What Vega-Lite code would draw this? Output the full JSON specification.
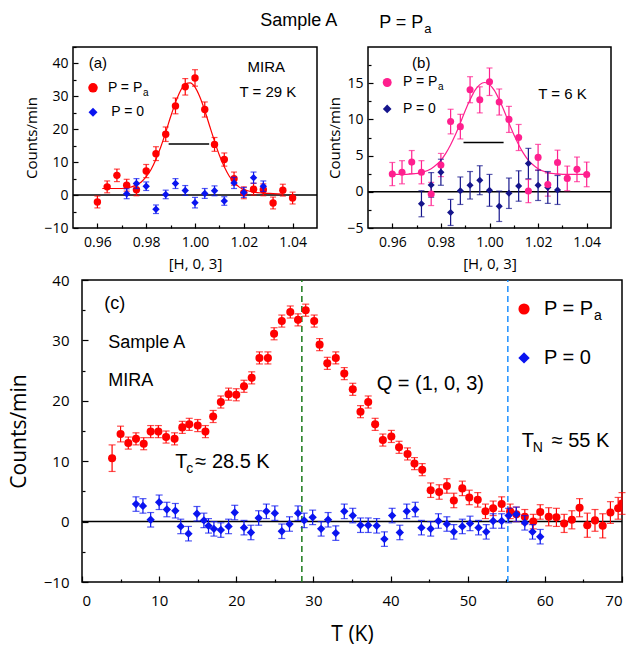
{
  "$schema": "https://vega.github.io/schema/vega-lite/v6.json",
  "padding": {"left": 7, "top": 11, "right": 5, "bottom": 5},
  "background": "white",
  "spacing": 0,
  "config": {
    "view": {"stroke": "black", "strokeWidth": 1.5},
    "axis": {"grid": false, "domain": false, "tickColor": "black", "tickWidth": 1.2, "labelColor": "black", "titleColor": "black", "labelFont": "Open Sans", "titleFont": "Open Sans", "titleFontWeight": "normal"}
  },
  "datasets": {
    "a_red": [
      {"x": 0.960, "y": -2.1, "e": 1.8}, {"x": 0.964, "y": 2.5, "e": 1.8}, {"x": 0.968, "y": 6.0, "e": 1.9},
      {"x": 0.972, "y": 3.0, "e": 1.8}, {"x": 0.976, "y": 1.6, "e": 1.8}, {"x": 0.980, "y": 7.3, "e": 2.0},
      {"x": 0.984, "y": 12.6, "e": 2.1}, {"x": 0.988, "y": 18.5, "e": 2.2}, {"x": 0.992, "y": 27.1, "e": 2.4},
      {"x": 0.996, "y": 32.9, "e": 2.5}, {"x": 1.000, "y": 35.6, "e": 2.5}, {"x": 1.004, "y": 26.0, "e": 2.3},
      {"x": 1.008, "y": 15.4, "e": 2.1}, {"x": 1.012, "y": 10.8, "e": 2.0}, {"x": 1.016, "y": 5.0, "e": 2.0},
      {"x": 1.020, "y": 0.7, "e": 1.8}, {"x": 1.024, "y": 1.8, "e": 1.8}, {"x": 1.028, "y": 1.6, "e": 1.8},
      {"x": 1.032, "y": -2.4, "e": 1.8}, {"x": 1.036, "y": 1.5, "e": 1.8}, {"x": 1.040, "y": -0.9, "e": 1.8}
    ],
    "a_blue": [
      {"x": 0.972, "y": 0.4, "e": 1.5}, {"x": 0.976, "y": 3.5, "e": 1.5}, {"x": 0.980, "y": 2.7, "e": 1.3},
      {"x": 0.984, "y": -4.3, "e": 1.3}, {"x": 0.988, "y": 0.2, "e": 1.3}, {"x": 0.992, "y": 3.5, "e": 1.5},
      {"x": 0.996, "y": 1.4, "e": 1.5}, {"x": 1.000, "y": -2.3, "e": 1.6}, {"x": 1.004, "y": 0.5, "e": 1.5},
      {"x": 1.008, "y": 1.3, "e": 1.5}, {"x": 1.012, "y": -1.8, "e": 1.3}, {"x": 1.016, "y": 3.7, "e": 1.7},
      {"x": 1.020, "y": 0.8, "e": 1.5}, {"x": 1.024, "y": 5.3, "e": 1.7}, {"x": 1.028, "y": 2.7, "e": 1.6}
    ],
    "a_fit": [
      {"x": 0.962, "y": 2.0}, {"x": 0.966, "y": 2.0}, {"x": 0.970, "y": 2.0}, {"x": 0.974, "y": 2.5},
      {"x": 0.978, "y": 4.0}, {"x": 0.980, "y": 5.6}, {"x": 0.982, "y": 7.8}, {"x": 0.984, "y": 10.9},
      {"x": 0.986, "y": 14.7}, {"x": 0.988, "y": 19.1}, {"x": 0.990, "y": 23.8}, {"x": 0.992, "y": 28.1},
      {"x": 0.994, "y": 31.6}, {"x": 0.996, "y": 33.8}, {"x": 0.998, "y": 34.1}, {"x": 1.000, "y": 32.8},
      {"x": 1.002, "y": 29.8}, {"x": 1.004, "y": 25.7}, {"x": 1.006, "y": 21.0}, {"x": 1.008, "y": 16.4},
      {"x": 1.010, "y": 12.1}, {"x": 1.012, "y": 8.6}, {"x": 1.014, "y": 5.8}, {"x": 1.016, "y": 3.9},
      {"x": 1.018, "y": 2.5}, {"x": 1.020, "y": 1.7}, {"x": 1.024, "y": 0.9}, {"x": 1.028, "y": 0.6},
      {"x": 1.032, "y": 0.45}, {"x": 1.036, "y": 0.3}
    ],
    "a_lines": [{"x": 0.95, "x2": 1.05, "y": 0}, {"x": 0.9892, "x2": 1.0058, "y": 15.5}],
    "a_sym_red": [{"x": 0.9582, "y": 32.6}],
    "a_sym_blue": [{"x": 0.9582, "y": 25.2}],
    "a_txt_left": [{"x": 0.9643, "y": 32.6, "t": "P = P"}, {"x": 0.9657, "y": 25.2, "t": "P = 0"}],
    "a_sub": [{"x": 0.9643, "y": 32.6, "t": "a"}],
    "a_txt_center": [{"x": 0.9602, "y": 40.1, "t": "(a)"}, {"x": 1.0292, "y": 38.9, "t": "MIRA"}, {"x": 1.0299, "y": 31.3, "t": "T = 29 K"}],
    "a_title": [{"x": 1.0425, "y": 52.75, "t": "Sample A"}],
    "b_pink": [
      {"x": 0.960, "y": 2.45, "e": 1.6}, {"x": 0.964, "y": 2.7, "e": 1.6}, {"x": 0.968, "y": 4.1, "e": 1.6},
      {"x": 0.972, "y": 2.7, "e": 1.6}, {"x": 0.976, "y": -0.3, "e": 1.6}, {"x": 0.980, "y": 3.7, "e": 1.6},
      {"x": 0.984, "y": 9.7, "e": 1.7}, {"x": 0.988, "y": 9.0, "e": 1.7}, {"x": 0.992, "y": 14.1, "e": 1.8},
      {"x": 0.996, "y": 12.7, "e": 1.8}, {"x": 1.000, "y": 15.2, "e": 1.9}, {"x": 1.004, "y": 12.4, "e": 1.8},
      {"x": 1.008, "y": 10.0, "e": 1.8}, {"x": 1.012, "y": 7.5, "e": 1.8}, {"x": 1.016, "y": 0.1, "e": 1.6},
      {"x": 1.020, "y": 4.75, "e": 1.8}, {"x": 1.024, "y": 1.0, "e": 1.6}, {"x": 1.028, "y": 4.05, "e": 1.7},
      {"x": 1.032, "y": 1.85, "e": 1.7}, {"x": 1.036, "y": 3.1, "e": 1.7}, {"x": 1.040, "y": 2.4, "e": 1.7}
    ],
    "b_navy": [
      {"x": 0.972, "y": -1.65, "e": 1.8}, {"x": 0.976, "y": 0.95, "e": 1.7}, {"x": 0.980, "y": 2.7, "e": 1.8},
      {"x": 0.984, "y": -2.85, "e": 1.8}, {"x": 0.988, "y": 0.15, "e": 1.9}, {"x": 0.992, "y": 0.9, "e": 1.9},
      {"x": 0.996, "y": 1.6, "e": 2.0}, {"x": 1.000, "y": 0.2, "e": 2.2}, {"x": 1.004, "y": -2.0, "e": 2.1},
      {"x": 1.008, "y": -0.2, "e": 2.1}, {"x": 1.012, "y": 0.8, "e": 2.1}, {"x": 1.016, "y": 3.9, "e": 2.1},
      {"x": 1.020, "y": 0.9, "e": 2.1}, {"x": 1.024, "y": 0.6, "e": 2.2}, {"x": 1.028, "y": 0.25, "e": 2.0}
    ],
    "b_fit": [
      {"x": 0.960, "y": 2.4}, {"x": 0.964, "y": 2.4}, {"x": 0.968, "y": 2.47}, {"x": 0.972, "y": 2.65},
      {"x": 0.976, "y": 3.2}, {"x": 0.978, "y": 3.7}, {"x": 0.980, "y": 4.35}, {"x": 0.982, "y": 5.3},
      {"x": 0.984, "y": 6.5}, {"x": 0.986, "y": 7.9}, {"x": 0.988, "y": 9.5}, {"x": 0.990, "y": 11.2},
      {"x": 0.992, "y": 12.7}, {"x": 0.994, "y": 14.0}, {"x": 0.996, "y": 14.8}, {"x": 0.998, "y": 15.1},
      {"x": 1.000, "y": 14.8}, {"x": 1.002, "y": 14.0}, {"x": 1.004, "y": 12.7}, {"x": 1.006, "y": 11.2},
      {"x": 1.008, "y": 9.5}, {"x": 1.010, "y": 7.9}, {"x": 1.012, "y": 6.5}, {"x": 1.014, "y": 5.3},
      {"x": 1.016, "y": 4.35}, {"x": 1.018, "y": 3.7}, {"x": 1.020, "y": 3.2}, {"x": 1.024, "y": 2.65},
      {"x": 1.028, "y": 2.47}, {"x": 1.032, "y": 2.4}, {"x": 1.036, "y": 2.4}, {"x": 1.040, "y": 2.4}
    ],
    "b_lines": [{"x": 0.95, "x2": 1.05, "y": 0}, {"x": 0.9893, "x2": 1.0058, "y": 6.8}],
    "b_sym_pink": [{"x": 0.9579, "y": 15.1}],
    "b_sym_navy": [{"x": 0.9579, "y": 11.45}],
    "b_txt_left": [{"x": 0.9644, "y": 15.1, "t": "P = P"}, {"x": 0.9644, "y": 11.45, "t": "P = 0"}],
    "b_sub": [{"x": 0.9644, "y": 15.1, "t": "a"}],
    "b_txt_center": [{"x": 0.9719, "y": 17.8, "t": "(b)"}, {"x": 1.030, "y": 13.5, "t": "T = 6 K"}],
    "b_title": [{"x": 0.9546, "y": 23.3, "t": "P = P"}],
    "b_title_sub": [{"x": 0.9546, "y": 23.3, "t": "a"}],
    "c_red": [
      {"x": 3.9, "y": 10.5, "e": 2.2}, {"x": 5.0, "y": 14.5, "e": 1.3}, {"x": 6.0, "y": 13.0, "e": 1.0},
      {"x": 7.0, "y": 13.7, "e": 1.0}, {"x": 8.0, "y": 12.9, "e": 1.0}, {"x": 8.9, "y": 14.9, "e": 1.0},
      {"x": 9.9, "y": 14.9, "e": 1.0}, {"x": 10.9, "y": 14.0, "e": 1.0}, {"x": 12.0, "y": 13.7, "e": 1.0},
      {"x": 13.0, "y": 15.6, "e": 1.0}, {"x": 13.9, "y": 16.1, "e": 1.0}, {"x": 15.0, "y": 15.9, "e": 1.0},
      {"x": 16.0, "y": 14.9, "e": 1.0}, {"x": 17.0, "y": 17.4, "e": 1.0}, {"x": 18.0, "y": 19.8, "e": 1.0},
      {"x": 19.0, "y": 21.1, "e": 1.0}, {"x": 20.0, "y": 21.0, "e": 1.0}, {"x": 21.0, "y": 22.4, "e": 1.0},
      {"x": 22.0, "y": 23.8, "e": 1.0}, {"x": 23.0, "y": 27.1, "e": 1.0}, {"x": 24.1, "y": 27.1, "e": 1.0},
      {"x": 24.9, "y": 31.1, "e": 1.0}, {"x": 25.9, "y": 33.2, "e": 1.0}, {"x": 27.0, "y": 34.7, "e": 1.0},
      {"x": 28.0, "y": 33.4, "e": 1.0}, {"x": 29.0, "y": 35.0, "e": 1.0}, {"x": 30.1, "y": 33.2, "e": 1.0},
      {"x": 30.8, "y": 29.3, "e": 1.0}, {"x": 31.8, "y": 26.2, "e": 1.0}, {"x": 32.9, "y": 27.1, "e": 1.0},
      {"x": 34.0, "y": 24.5, "e": 1.0}, {"x": 35.1, "y": 21.9, "e": 1.0}, {"x": 36.1, "y": 18.2, "e": 1.0},
      {"x": 37.1, "y": 19.8, "e": 1.0}, {"x": 38.0, "y": 16.1, "e": 1.0}, {"x": 39.0, "y": 13.5, "e": 1.0},
      {"x": 40.1, "y": 14.1, "e": 1.0}, {"x": 41.1, "y": 12.3, "e": 1.0}, {"x": 42.2, "y": 11.2, "e": 1.0},
      {"x": 43.1, "y": 9.6, "e": 1.0}, {"x": 44.1, "y": 8.6, "e": 1.0}, {"x": 45.2, "y": 5.2, "e": 1.2},
      {"x": 46.3, "y": 4.9, "e": 1.2}, {"x": 47.3, "y": 5.9, "e": 1.2}, {"x": 48.2, "y": 3.5, "e": 1.2},
      {"x": 49.3, "y": 5.5, "e": 1.2}, {"x": 50.2, "y": 4.0, "e": 1.2}, {"x": 51.3, "y": 3.6, "e": 1.2},
      {"x": 52.3, "y": 1.7, "e": 1.2}, {"x": 53.3, "y": 2.2, "e": 1.2}, {"x": 54.4, "y": 2.9, "e": 1.2},
      {"x": 55.5, "y": 1.7, "e": 1.2}, {"x": 56.3, "y": 1.2, "e": 1.2}, {"x": 57.4, "y": 0.8, "e": 1.2},
      {"x": 58.5, "y": 0.0, "e": 1.2}, {"x": 59.4, "y": 1.6, "e": 1.2}, {"x": 60.5, "y": 0.8, "e": 1.5},
      {"x": 61.5, "y": 0.7, "e": 1.5}, {"x": 62.5, "y": -0.3, "e": 1.5}, {"x": 63.5, "y": 0.3, "e": 1.5},
      {"x": 64.5, "y": 2.3, "e": 1.5}, {"x": 65.5, "y": -0.6, "e": 2.0}, {"x": 66.5, "y": 0.2, "e": 1.8},
      {"x": 67.5, "y": -0.7, "e": 2.0}, {"x": 68.5, "y": 1.5, "e": 1.8}, {"x": 69.5, "y": 2.2, "e": 1.8},
      {"x": 70.0, "y": 3.0, "e": 1.8}
    ],
    "c_blue": [
      {"x": 7.0, "y": 2.9, "e": 1.2}, {"x": 7.9, "y": 2.6, "e": 1.2}, {"x": 8.9, "y": 0.3, "e": 1.2},
      {"x": 10.0, "y": 3.2, "e": 1.2}, {"x": 11.0, "y": 2.0, "e": 1.2}, {"x": 12.1, "y": 1.8, "e": 1.2},
      {"x": 12.8, "y": -0.8, "e": 1.2}, {"x": 13.8, "y": -2.0, "e": 1.2}, {"x": 14.9, "y": 1.3, "e": 1.2},
      {"x": 15.8, "y": 0.2, "e": 1.2}, {"x": 16.4, "y": -0.7, "e": 1.2}, {"x": 17.1, "y": -1.2, "e": 1.2},
      {"x": 18.0, "y": -1.4, "e": 1.2}, {"x": 19.0, "y": -0.8, "e": 1.2}, {"x": 19.8, "y": 1.5, "e": 1.2},
      {"x": 21.0, "y": -1.0, "e": 1.2}, {"x": 21.9, "y": -1.8, "e": 1.2}, {"x": 22.9, "y": 0.6, "e": 1.2},
      {"x": 23.9, "y": 1.7, "e": 1.2}, {"x": 25.0, "y": 1.4, "e": 1.2}, {"x": 25.9, "y": -1.6, "e": 1.2},
      {"x": 26.9, "y": -0.4, "e": 1.2}, {"x": 28.0, "y": 1.4, "e": 1.2}, {"x": 28.8, "y": 0.2, "e": 1.2},
      {"x": 29.9, "y": 0.7, "e": 1.2}, {"x": 31.0, "y": -1.2, "e": 1.2}, {"x": 31.9, "y": 0.3, "e": 1.2},
      {"x": 32.9, "y": -1.9, "e": 1.2}, {"x": 34.0, "y": 1.7, "e": 1.2}, {"x": 35.1, "y": 1.0, "e": 1.2},
      {"x": 36.1, "y": -0.6, "e": 1.2}, {"x": 37.1, "y": -0.6, "e": 1.2}, {"x": 38.2, "y": -0.7, "e": 1.2},
      {"x": 39.2, "y": -2.9, "e": 1.2}, {"x": 40.2, "y": 1.0, "e": 1.2}, {"x": 41.2, "y": -1.8, "e": 1.2},
      {"x": 42.1, "y": 1.7, "e": 1.2}, {"x": 43.2, "y": 2.0, "e": 1.2}, {"x": 44.0, "y": -1.0, "e": 1.2},
      {"x": 45.2, "y": -1.2, "e": 1.2}, {"x": 46.2, "y": 0.1, "e": 1.2}, {"x": 47.3, "y": -0.4, "e": 1.2},
      {"x": 48.2, "y": -1.7, "e": 1.2}, {"x": 49.3, "y": -0.8, "e": 1.2}, {"x": 50.3, "y": -0.3, "e": 1.2},
      {"x": 51.4, "y": -1.0, "e": 1.2}, {"x": 52.4, "y": -1.7, "e": 1.2}, {"x": 53.3, "y": 0.1, "e": 1.2},
      {"x": 54.4, "y": 0.1, "e": 1.2}, {"x": 55.3, "y": 1.0, "e": 1.2}, {"x": 56.3, "y": 1.2, "e": 1.2},
      {"x": 57.4, "y": -0.2, "e": 1.2}, {"x": 58.4, "y": -1.7, "e": 1.2}, {"x": 59.4, "y": -2.5, "e": 1.2}
    ],
    "c_zero": [{"x": 0, "x2": 70, "y": 0}],
    "c_tc": [{"x": 28.5, "y": -10, "y2": 40}],
    "c_tn": [{"x": 55.2, "y": -10, "y2": 40}],
    "c_sym_red": [{"x": 57.3, "y": 35.2}],
    "c_sym_blue": [{"x": 57.3, "y": 27.1}],
    "c_txt_left": [{"x": 2.9, "y": 36.0, "t": "(c)"}, {"x": 3.4, "y": 29.5, "t": "Sample A"}, {"x": 3.4, "y": 23.2, "t": "MIRA"}],
    "c_txt_big": [{"x": 38.2, "y": 22.8, "t": "Q = (1, 0, 3)"}, {"x": 59.9, "y": 35.2, "t": "P = P"}, {"x": 59.9, "y": 27.1, "t": "P = 0"}, {"x": 12.1, "y": 9.8, "t": "T"}, {"x": 57.0, "y": 13.4, "t": "T"}],
    "c_leg_sub": [{"x": 59.9, "y": 35.2, "t": "a"}],
    "c_sub": [{"x": 12.1, "y": 9.8, "t": "c"}, {"x": 57.0, "y": 13.4, "t": "N"}],
    "c_rest_c": [{"x": 12.1, "y": 9.8, "t": "≈ 28.5 K"}],
    "c_rest_n": [{"x": 57.0, "y": 13.4, "t": "≈ 55 K"}]
  },
  "vconcat": [
    {
      "hconcat": [
        {
          "width": 244, "height": 181,
          "resolve": {"axis": {"x": "independent", "y": "independent"}},
          "layer": [
            {"data": {"name": "a_lines"}, "mark": {"type": "rule", "color": "black", "strokeWidth": 1.5},
             "encoding": {"x": {"field": "x", "type": "quantitative", "scale": {"domain": [0.95, 1.05], "nice": false, "zero": false}, "axis": null}, "x2": {"field": "x2"},
                          "y": {"field": "y", "type": "quantitative", "scale": {"domain": [-10, 45], "nice": false, "zero": false}, "axis": null}}},
            {"data": {"name": "a_fit"}, "mark": {"type": "line", "color": "#ff0000", "strokeWidth": 1.2, "interpolate": "monotone"},
             "encoding": {"x": {"field": "x", "type": "quantitative", "scale": {"domain": [0.95, 1.05], "nice": false, "zero": false}, "axis": {"orient": "bottom", "values": [0.97, 0.99, 1.01, 1.03], "labels": false, "tickSize": -3, "title": null}},
                          "y": {"field": "y", "type": "quantitative", "scale": {"domain": [-10, 45], "nice": false, "zero": false}, "axis": {"orient": "left", "values": [-5, 5, 15, 25, 35, 45], "labels": false, "tickSize": -3, "title": null}}}},
            {"data": {"name": "a_red"}, "mark": {"type": "errorbar", "ticks": {"size": 6}, "color": "#ff0000", "thickness": 1.2},
             "encoding": {"x": {"field": "x", "type": "quantitative", "scale": {"domain": [0.95, 1.05], "nice": false, "zero": false}, "axis": null},
                          "y": {"field": "y", "type": "quantitative", "scale": {"domain": [-10, 45], "nice": false, "zero": false}, "axis": null}, "yError": {"field": "e"}}},
            {"data": {"name": "a_red"}, "mark": {"type": "point", "shape": "circle", "filled": true, "opacity": 1, "size": 55, "color": "#ff0000"},
             "encoding": {"x": {"field": "x", "type": "quantitative", "scale": {"domain": [0.95, 1.05], "nice": false, "zero": false}, "axis": {"orient": "bottom", "values": [0.96, 0.98, 1.0, 1.02, 1.04], "format": ".2f", "title": "[H, 0, 3]", "labelFontSize": 14, "titleFontSize": 15, "tickSize": -5, "labelPadding": 12, "titlePadding": 7}},
                          "y": {"field": "y", "type": "quantitative", "scale": {"domain": [-10, 45], "nice": false, "zero": false}, "axis": {"orient": "left", "values": [-10, 0, 10, 20, 30, 40], "title": "Counts/min", "labelFontSize": 14, "titleFontSize": 15, "tickSize": -5, "labelPadding": 10, "titlePadding": 4}}}},
            {"data": {"name": "a_blue"}, "mark": {"type": "errorbar", "ticks": {"size": 6}, "color": "#0a14f0", "thickness": 1.2},
             "encoding": {"x": {"field": "x", "type": "quantitative", "scale": {"domain": [0.95, 1.05], "nice": false, "zero": false}, "axis": null},
                          "y": {"field": "y", "type": "quantitative", "scale": {"domain": [-10, 45], "nice": false, "zero": false}, "axis": null}, "yError": {"field": "e"}}},
            {"data": {"name": "a_blue"}, "mark": {"type": "point", "shape": "diamond", "filled": true, "opacity": 1, "size": 55, "color": "#0a14f0"},
             "encoding": {"x": {"field": "x", "type": "quantitative", "scale": {"domain": [0.95, 1.05], "nice": false, "zero": false}, "axis": null},
                          "y": {"field": "y", "type": "quantitative", "scale": {"domain": [-10, 45], "nice": false, "zero": false}, "axis": null}}},
            {"data": {"name": "a_sym_red"}, "mark": {"type": "point", "shape": "circle", "filled": true, "opacity": 1, "size": 90, "color": "#ff0000"},
             "encoding": {"x": {"field": "x", "type": "quantitative", "scale": {"domain": [0.95, 1.05], "nice": false, "zero": false}, "axis": null},
                          "y": {"field": "y", "type": "quantitative", "scale": {"domain": [-10, 45], "nice": false, "zero": false}, "axis": null}}},
            {"data": {"name": "a_sym_blue"}, "mark": {"type": "point", "shape": "diamond", "filled": true, "opacity": 1, "size": 80, "color": "#0a14f0"},
             "encoding": {"x": {"field": "x", "type": "quantitative", "scale": {"domain": [0.95, 1.05], "nice": false, "zero": false}, "axis": null},
                          "y": {"field": "y", "type": "quantitative", "scale": {"domain": [-10, 45], "nice": false, "zero": false}, "axis": null}}},
            {"data": {"name": "a_txt_left"}, "mark": {"type": "text", "align": "left", "baseline": "middle", "fontSize": 14, "font": "Liberation Sans", "color": "black"},
             "encoding": {"x": {"field": "x", "type": "quantitative", "scale": {"domain": [0.95, 1.05], "nice": false, "zero": false}, "axis": null},
                          "y": {"field": "y", "type": "quantitative", "scale": {"domain": [-10, 45], "nice": false, "zero": false}, "axis": null}, "text": {"field": "t"}}},
            {"data": {"name": "a_sub"}, "mark": {"type": "text", "align": "left", "baseline": "middle", "fontSize": 10, "dx": 35, "dy": 5, "font": "Liberation Sans", "color": "black"},
             "encoding": {"x": {"field": "x", "type": "quantitative", "scale": {"domain": [0.95, 1.05], "nice": false, "zero": false}, "axis": null},
                          "y": {"field": "y", "type": "quantitative", "scale": {"domain": [-10, 45], "nice": false, "zero": false}, "axis": null}, "text": {"field": "t"}}},
            {"data": {"name": "a_txt_center"}, "mark": {"type": "text", "align": "center", "baseline": "middle", "fontSize": 15, "font": "Liberation Sans", "color": "black"},
             "encoding": {"x": {"field": "x", "type": "quantitative", "scale": {"domain": [0.95, 1.05], "nice": false, "zero": false}, "axis": null},
                          "y": {"field": "y", "type": "quantitative", "scale": {"domain": [-10, 45], "nice": false, "zero": false}, "axis": null}, "text": {"field": "t"}}},
            {"data": {"name": "a_title"}, "mark": {"type": "text", "align": "center", "baseline": "middle", "fontSize": 18, "font": "Liberation Sans", "color": "black"},
             "encoding": {"x": {"field": "x", "type": "quantitative", "scale": {"domain": [0.95, 1.05], "nice": false, "zero": false}, "axis": null},
                          "y": {"field": "y", "type": "quantitative", "scale": {"domain": [-10, 45], "nice": false, "zero": false}, "axis": null}, "text": {"field": "t"}}}
          ]
        },
        {
          "width": 243, "height": 181,
          "resolve": {"axis": {"x": "independent", "y": "independent"}},
          "layer": [
            {"data": {"name": "b_lines"}, "mark": {"type": "rule", "color": "black", "strokeWidth": 1.5},
             "encoding": {"x": {"field": "x", "type": "quantitative", "scale": {"domain": [0.95, 1.05], "nice": false, "zero": false}, "axis": null}, "x2": {"field": "x2"},
                          "y": {"field": "y", "type": "quantitative", "scale": {"domain": [-5, 20], "nice": false, "zero": false}, "axis": null}}},
            {"data": {"name": "b_fit"}, "mark": {"type": "line", "color": "#ff1f8e", "strokeWidth": 1.2, "interpolate": "monotone"},
             "encoding": {"x": {"field": "x", "type": "quantitative", "scale": {"domain": [0.95, 1.05], "nice": false, "zero": false}, "axis": {"orient": "bottom", "values": [0.97, 0.99, 1.01, 1.03], "labels": false, "tickSize": -3, "title": null}},
                          "y": {"field": "y", "type": "quantitative", "scale": {"domain": [-5, 20], "nice": false, "zero": false}, "axis": {"orient": "left", "values": [-2.5, 2.5, 7.5, 12.5, 17.5], "labels": false, "tickSize": -3, "title": null}}}},
            {"data": {"name": "b_pink"}, "mark": {"type": "errorbar", "ticks": {"size": 6}, "color": "#ff1f8e", "thickness": 1.2},
             "encoding": {"x": {"field": "x", "type": "quantitative", "scale": {"domain": [0.95, 1.05], "nice": false, "zero": false}, "axis": null},
                          "y": {"field": "y", "type": "quantitative", "scale": {"domain": [-5, 20], "nice": false, "zero": false}, "axis": null}, "yError": {"field": "e"}}},
            {"data": {"name": "b_navy"}, "mark": {"type": "errorbar", "ticks": {"size": 6}, "color": "#15158c", "thickness": 1.2},
             "encoding": {"x": {"field": "x", "type": "quantitative", "scale": {"domain": [0.95, 1.05], "nice": false, "zero": false}, "axis": null},
                          "y": {"field": "y", "type": "quantitative", "scale": {"domain": [-5, 20], "nice": false, "zero": false}, "axis": null}, "yError": {"field": "e"}}},
            {"data": {"name": "b_navy"}, "mark": {"type": "point", "shape": "diamond", "filled": true, "opacity": 1, "size": 50, "color": "#15158c"},
             "encoding": {"x": {"field": "x", "type": "quantitative", "scale": {"domain": [0.95, 1.05], "nice": false, "zero": false}, "axis": null},
                          "y": {"field": "y", "type": "quantitative", "scale": {"domain": [-5, 20], "nice": false, "zero": false}, "axis": null}}},
            {"data": {"name": "b_pink"}, "mark": {"type": "point", "shape": "circle", "filled": true, "opacity": 1, "size": 50, "color": "#ff1f8e"},
             "encoding": {"x": {"field": "x", "type": "quantitative", "scale": {"domain": [0.95, 1.05], "nice": false, "zero": false}, "axis": {"orient": "bottom", "values": [0.96, 0.98, 1.0, 1.02, 1.04], "format": ".2f", "title": "[H, 0, 3]", "labelFontSize": 14, "titleFontSize": 15, "tickSize": -5, "labelPadding": 12, "titlePadding": 7}},
                          "y": {"field": "y", "type": "quantitative", "scale": {"domain": [-5, 20], "nice": false, "zero": false}, "axis": {"orient": "left", "values": [-5, 0, 5, 10, 15], "title": "Counts/min", "labelFontSize": 14, "titleFontSize": 15, "tickSize": -5, "labelPadding": 10, "titlePadding": 4}}}},
            {"data": {"name": "b_sym_pink"}, "mark": {"type": "point", "shape": "circle", "filled": true, "opacity": 1, "size": 80, "color": "#ff1f8e"},
             "encoding": {"x": {"field": "x", "type": "quantitative", "scale": {"domain": [0.95, 1.05], "nice": false, "zero": false}, "axis": null},
                          "y": {"field": "y", "type": "quantitative", "scale": {"domain": [-5, 20], "nice": false, "zero": false}, "axis": null}}},
            {"data": {"name": "b_sym_navy"}, "mark": {"type": "point", "shape": "diamond", "filled": true, "opacity": 1, "size": 75, "color": "#15158c"},
             "encoding": {"x": {"field": "x", "type": "quantitative", "scale": {"domain": [0.95, 1.05], "nice": false, "zero": false}, "axis": null},
                          "y": {"field": "y", "type": "quantitative", "scale": {"domain": [-5, 20], "nice": false, "zero": false}, "axis": null}}},
            {"data": {"name": "b_txt_left"}, "mark": {"type": "text", "align": "left", "baseline": "middle", "fontSize": 14, "font": "Liberation Sans", "color": "black"},
             "encoding": {"x": {"field": "x", "type": "quantitative", "scale": {"domain": [0.95, 1.05], "nice": false, "zero": false}, "axis": null},
                          "y": {"field": "y", "type": "quantitative", "scale": {"domain": [-5, 20], "nice": false, "zero": false}, "axis": null}, "text": {"field": "t"}}},
            {"data": {"name": "b_sub"}, "mark": {"type": "text", "align": "left", "baseline": "middle", "fontSize": 10, "dx": 35, "dy": 5, "font": "Liberation Sans", "color": "black"},
             "encoding": {"x": {"field": "x", "type": "quantitative", "scale": {"domain": [0.95, 1.05], "nice": false, "zero": false}, "axis": null},
                          "y": {"field": "y", "type": "quantitative", "scale": {"domain": [-5, 20], "nice": false, "zero": false}, "axis": null}, "text": {"field": "t"}}},
            {"data": {"name": "b_txt_center"}, "mark": {"type": "text", "align": "center", "baseline": "middle", "fontSize": 15, "font": "Liberation Sans", "color": "black"},
             "encoding": {"x": {"field": "x", "type": "quantitative", "scale": {"domain": [0.95, 1.05], "nice": false, "zero": false}, "axis": null},
                          "y": {"field": "y", "type": "quantitative", "scale": {"domain": [-5, 20], "nice": false, "zero": false}, "axis": null}, "text": {"field": "t"}}},
            {"data": {"name": "b_title"}, "mark": {"type": "text", "align": "left", "baseline": "middle", "fontSize": 18, "font": "Liberation Sans", "color": "black"},
             "encoding": {"x": {"field": "x", "type": "quantitative", "scale": {"domain": [0.95, 1.05], "nice": false, "zero": false}, "axis": null},
                          "y": {"field": "y", "type": "quantitative", "scale": {"domain": [-5, 20], "nice": false, "zero": false}, "axis": null}, "text": {"field": "t"}}},
            {"data": {"name": "b_title_sub"}, "mark": {"type": "text", "align": "left", "baseline": "middle", "fontSize": 13, "dx": 45, "dy": 6, "font": "Liberation Sans", "color": "black"},
             "encoding": {"x": {"field": "x", "type": "quantitative", "scale": {"domain": [0.95, 1.05], "nice": false, "zero": false}, "axis": null},
                          "y": {"field": "y", "type": "quantitative", "scale": {"domain": [-5, 20], "nice": false, "zero": false}, "axis": null}, "text": {"field": "t"}}}
          ]
        }
      ],
      "spacing": 51,
      "bounds": "flush"
    },
    {
      "hconcat": [
        {"width": 9, "height": 2, "view": {"stroke": null}, "data": {"values": [{"k": 1}]}, "mark": {"type": "point", "opacity": 0}},
        {
          "width": 540, "height": 302,
          "resolve": {"axis": {"x": "independent", "y": "independent"}},
          "layer": [
            {"data": {"name": "c_zero"}, "mark": {"type": "rule", "color": "black", "strokeWidth": 1.5},
             "encoding": {"x": {"field": "x", "type": "quantitative", "scale": {"domain": [0, 70], "nice": false, "zero": false}, "axis": null}, "x2": {"field": "x2"},
                          "y": {"field": "y", "type": "quantitative", "scale": {"domain": [-10, 40], "nice": false, "zero": false}, "axis": null}}},
            {"data": {"name": "c_tc"}, "mark": {"type": "rule", "color": "#1a7a1a", "strokeWidth": 1.5, "strokeDash": [6, 4]},
             "encoding": {"x": {"field": "x", "type": "quantitative", "scale": {"domain": [0, 70], "nice": false, "zero": false}, "axis": null},
                          "y": {"field": "y", "type": "quantitative", "scale": {"domain": [-10, 40], "nice": false, "zero": false}, "axis": null}, "y2": {"field": "y2"}}},
            {"data": {"name": "c_tn"}, "mark": {"type": "rule", "color": "#1e90ff", "strokeWidth": 1.5, "strokeDash": [6, 4]},
             "encoding": {"x": {"field": "x", "type": "quantitative", "scale": {"domain": [0, 70], "nice": false, "zero": false}, "axis": null},
                          "y": {"field": "y", "type": "quantitative", "scale": {"domain": [-10, 40], "nice": false, "zero": false}, "axis": null}, "y2": {"field": "y2"}}},
            {"data": {"name": "c_red"}, "mark": {"type": "errorbar", "ticks": {"size": 7}, "color": "#ff0000", "thickness": 1.2},
             "encoding": {"x": {"field": "x", "type": "quantitative", "scale": {"domain": [0, 70], "nice": false, "zero": false}, "axis": null},
                          "y": {"field": "y", "type": "quantitative", "scale": {"domain": [-10, 40], "nice": false, "zero": false}, "axis": null}, "yError": {"field": "e"}}},
            {"data": {"name": "c_red"}, "mark": {"type": "point", "shape": "circle", "filled": true, "opacity": 1, "size": 65, "color": "#ff0000", "clip": true},
             "encoding": {"x": {"field": "x", "type": "quantitative", "scale": {"domain": [0, 70], "nice": false, "zero": false}, "axis": {"orient": "bottom", "values": [0, 10, 20, 30, 40, 50, 60, 70], "title": "T (K)", "labelFontSize": 15, "titleFontSize": 21, "tickSize": -6, "labelPadding": 17, "titlePadding": 15}},
                          "y": {"field": "y", "type": "quantitative", "scale": {"domain": [-10, 40], "nice": false, "zero": false}, "axis": {"orient": "left", "values": [-10, 0, 10, 20, 30, 40], "title": "Counts/min", "labelFontSize": 15, "titleFontSize": 21, "tickSize": -6, "labelPadding": 19, "titlePadding": 14}}}},
            {"data": {"name": "c_blue"}, "mark": {"type": "errorbar", "ticks": {"size": 7}, "color": "#0a14f0", "thickness": 1.2},
             "encoding": {"x": {"field": "x", "type": "quantitative", "scale": {"domain": [0, 70], "nice": false, "zero": false}, "axis": null},
                          "y": {"field": "y", "type": "quantitative", "scale": {"domain": [-10, 40], "nice": false, "zero": false}, "axis": null}, "yError": {"field": "e"}}},
            {"data": {"name": "c_blue"}, "mark": {"type": "point", "shape": "diamond", "filled": true, "opacity": 1, "size": 70, "color": "#0a14f0"},
             "encoding": {"x": {"field": "x", "type": "quantitative", "scale": {"domain": [0, 70], "nice": false, "zero": false}, "axis": {"orient": "bottom", "values": [5, 15, 25, 35, 45, 55, 65], "labels": false, "tickSize": -3, "title": null}},
                          "y": {"field": "y", "type": "quantitative", "scale": {"domain": [-10, 40], "nice": false, "zero": false}, "axis": {"orient": "left", "values": [-5, 5, 15, 25, 35], "labels": false, "tickSize": -3, "title": null}}}},
            {"data": {"name": "c_sym_red"}, "mark": {"type": "point", "shape": "circle", "filled": true, "opacity": 1, "size": 125, "color": "#ff0000"},
             "encoding": {"x": {"field": "x", "type": "quantitative", "scale": {"domain": [0, 70], "nice": false, "zero": false}, "axis": null},
                          "y": {"field": "y", "type": "quantitative", "scale": {"domain": [-10, 40], "nice": false, "zero": false}, "axis": null}}},
            {"data": {"name": "c_sym_blue"}, "mark": {"type": "point", "shape": "diamond", "filled": true, "opacity": 1, "size": 130, "color": "#0a14f0"},
             "encoding": {"x": {"field": "x", "type": "quantitative", "scale": {"domain": [0, 70], "nice": false, "zero": false}, "axis": null},
                          "y": {"field": "y", "type": "quantitative", "scale": {"domain": [-10, 40], "nice": false, "zero": false}, "axis": null}}},
            {"data": {"name": "c_txt_left"}, "mark": {"type": "text", "align": "left", "baseline": "middle", "fontSize": 18, "font": "Liberation Sans", "color": "black"},
             "encoding": {"x": {"field": "x", "type": "quantitative", "scale": {"domain": [0, 70], "nice": false, "zero": false}, "axis": null},
                          "y": {"field": "y", "type": "quantitative", "scale": {"domain": [-10, 40], "nice": false, "zero": false}, "axis": null}, "text": {"field": "t"}}},
            {"data": {"name": "c_txt_big"}, "mark": {"type": "text", "align": "left", "baseline": "middle", "fontSize": 20, "font": "Liberation Sans", "color": "black"},
             "encoding": {"x": {"field": "x", "type": "quantitative", "scale": {"domain": [0, 70], "nice": false, "zero": false}, "axis": null},
                          "y": {"field": "y", "type": "quantitative", "scale": {"domain": [-10, 40], "nice": false, "zero": false}, "axis": null}, "text": {"field": "t"}}},
            {"data": {"name": "c_leg_sub"}, "mark": {"type": "text", "align": "left", "baseline": "middle", "fontSize": 14, "dx": 50, "dy": 7, "font": "Liberation Sans", "color": "black"},
             "encoding": {"x": {"field": "x", "type": "quantitative", "scale": {"domain": [0, 70], "nice": false, "zero": false}, "axis": null},
                          "y": {"field": "y", "type": "quantitative", "scale": {"domain": [-10, 40], "nice": false, "zero": false}, "axis": null}, "text": {"field": "t"}}},
            {"data": {"name": "c_sub"}, "mark": {"type": "text", "align": "left", "baseline": "middle", "fontSize": 14, "dx": 11, "dy": 7, "font": "Liberation Sans", "color": "black"},
             "encoding": {"x": {"field": "x", "type": "quantitative", "scale": {"domain": [0, 70], "nice": false, "zero": false}, "axis": null},
                          "y": {"field": "y", "type": "quantitative", "scale": {"domain": [-10, 40], "nice": false, "zero": false}, "axis": null}, "text": {"field": "t"}}},
            {"data": {"name": "c_rest_c"}, "mark": {"type": "text", "align": "left", "baseline": "middle", "fontSize": 20, "dx": 20, "font": "Liberation Sans", "color": "black"},
             "encoding": {"x": {"field": "x", "type": "quantitative", "scale": {"domain": [0, 70], "nice": false, "zero": false}, "axis": null},
                          "y": {"field": "y", "type": "quantitative", "scale": {"domain": [-10, 40], "nice": false, "zero": false}, "axis": null}, "text": {"field": "t"}}},
            {"data": {"name": "c_rest_n"}, "mark": {"type": "text", "align": "left", "baseline": "middle", "fontSize": 20, "dx": 30, "font": "Liberation Sans", "color": "black"},
             "encoding": {"x": {"field": "x", "type": "quantitative", "scale": {"domain": [0, 70], "nice": false, "zero": false}, "axis": null},
                          "y": {"field": "y", "type": "quantitative", "scale": {"domain": [-10, 40], "nice": false, "zero": false}, "axis": null}, "text": {"field": "t"}}}
          ]
        }
      ],
      "spacing": 0,
      "bounds": "flush"
    }
  ]
}
